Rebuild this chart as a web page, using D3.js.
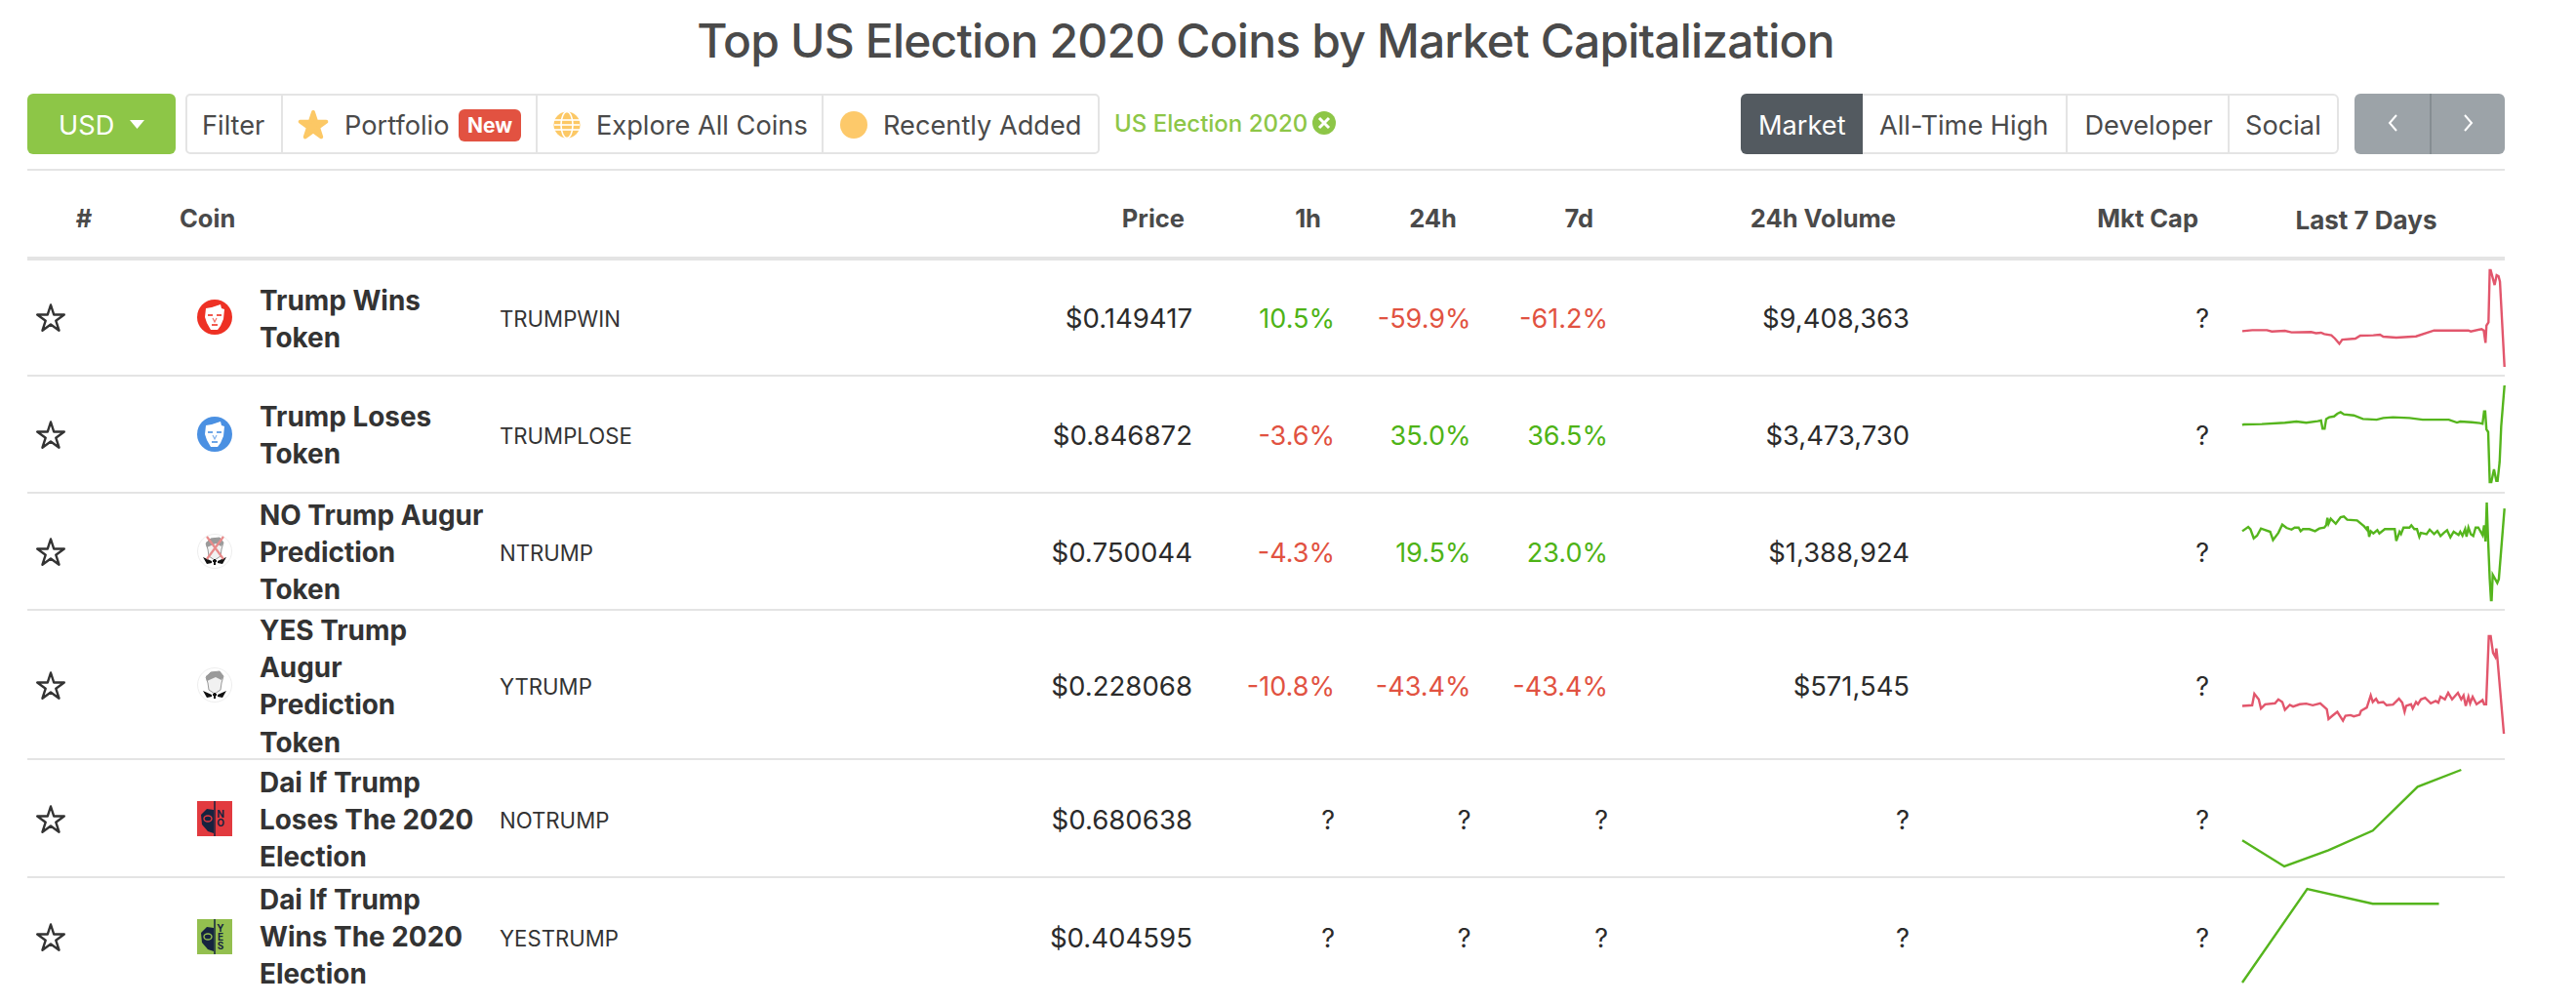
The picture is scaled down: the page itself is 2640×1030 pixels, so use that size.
<!DOCTYPE html>
<html>
<head>
<meta charset="utf-8">
<title>Top US Election 2020 Coins</title>
<script src="https://cdn.jsdelivr.net/npm/d3@7"></script>
<style>
  html, body { margin: 0; padding: 0; background: #fff; }
  svg { display: block; font-family: Inter, sans-serif; }
</style>
</head>
<body>
<svg id="chart" width="2640" height="1030"></svg>
<script>
const coinNames = [
  ["Trump Wins", "Token"],
  ["Trump Loses", "Token"],
  ["NO Trump Augur", "Prediction", "Token"],
  ["YES Trump", "Augur", "Prediction", "Token"],
  ["Dai If Trump", "Loses The 2020", "Election"],
  ["Dai If Trump", "Wins The 2020", "Election"]
]
const coinSymbols = ["TRUMPWIN", "TRUMPLOSE", "NTRUMP", "YTRUMP", "NOTRUMP", "YESTRUMP"]
const prices = ["$0.149417", "$0.846872", "$0.750044", "$0.228068", "$0.680638", "$0.404595"]
const change1h = [10.5, -3.6, -4.3, -10.8, null, null]
const change24h = [-59.9, 35.0, 19.5, -43.4, null, null]
const change7d = [-61.2, 36.5, 23.0, -43.4, null, null]
const volumes = ["$9,408,363", "$3,473,730", "$1,388,924", "$571,545", "?", "?"]
const marketCaps = ["?", "?", "?", "?", "?", "?"]
const headers = ["Price", "1h", "24h", "7d", "24h Volume", "Mkt Cap"]

// sparklines: hours since the start of the 7 days, price in cents, both
const sparkHours = [
  [0,6.3,15.7,18.8,27.2,31.4,43.9,47,50.2,52.3,56.8,59.1,61.9,63.7,72.1,75.2,83.6,87.8,89.9,98.2,110.8,122.3,133.8,144.2,145.7,152.6,154,155.1,155.7,157,157.8,158.4,160.9,162.2,163.4,164.3,167.2],
  [0,1,12.5,27.2,34.5,40.8,48.1,50.2,51.2,52.5,53.5,55.4,58.5,60.6,62.7,64.8,71.1,76.9,85.7,89.9,96.1,106.6,115,131.7,136.9,139,146.3,151.5,153.2,154.2,154.9,155.7,156.8,157.8,158.8,160.5,162,162.8,164.1,165.1,167.2],
  [0,3.8,5.2,7.3,9.4,11.9,17.8,19.6,23,25.5,28.2,31.4,33.4,35.9,37.2,38.7,42.8,46.4,49.1,52.3,53.5,54.3,55,56.4,59.6,62.7,64.8,66.9,73.2,77.7,79.4,80,80.9,81.9,83.6,86.1,87.4,90.9,97.2,98.2,100.3,101.2,102.8,106.6,107.8,109.7,111.4,112.9,113.9,117.5,119.5,122.3,124.4,126.4,128.5,130.6,132.7,134.8,137.9,139,140.4,142.1,143,144.2,145.7,147.3,148.8,150.5,153.2,154.2,155.1,155.9,156.8,157.8,158.6,159,159.7,162.6,163.6,167.2],
  [0,6.3,7.7,10.5,11.9,14.6,20.9,23,25.5,27.2,30.3,32.4,36.6,40.8,44.9,49.7,53.9,55,57.5,60.6,64.2,65.8,69,71.1,74.8,75.7,79.4,81.9,83.2,85.3,86.7,89.9,92,96.1,99.9,102,103.5,104.5,107.6,108.7,110.8,112,113.9,116.6,120.2,123.3,125,126.4,129.2,131.3,133.8,137.5,139.6,141.1,142.5,144.2,145.3,146.9,149.4,153.2,154.2,155.5,157.2,158.4,159.9,161.3,162,162.6,166.8],
  [0,26.8,55,83.2,111.8,139.6],
  [0,41.4,83.2,125.4]
]
const sparkCents = [
  [38,38.6,38.6,37.8,38.2,37.2,37.4,36.7,37,36.1,35.3,33.2,29.8,32.5,33.2,35.1,35.3,35.7,34.4,33.8,34.6,38.4,38.4,38.4,37.8,39.3,38.4,30.4,41.6,43.7,77.3,77.3,67.8,74.1,73.5,69.9,14.9],
  [61.5,61.9,62.1,62.9,63.6,62.9,63.8,64.2,59.4,59.4,65.1,66.1,66.6,68.2,69.1,67.8,67.2,65.1,64.7,65.7,66.1,65.7,64.7,64.7,63,63.6,63.2,62.7,62.3,69.5,69.5,59,57.5,28.3,28.3,35.7,29,29,40,60.9,84.7],
  [60.3,63,61.6,55.7,57.4,62,59.9,54.6,59.2,64.5,62.4,61.3,62.6,62.6,60.3,61.6,61.6,60.3,62,62.6,64.1,68.9,65.1,68.3,65.1,69.3,69.8,67.7,67.2,63.4,61.3,63.4,56.7,60.3,58.8,60.9,58.8,61.6,61.6,54,59.9,58.4,62.6,62.6,64.1,61.6,61.6,56.7,59.2,58.4,61.3,58.4,60.5,57.2,59.2,60.9,56.3,59.9,57.8,59.9,57.4,61.6,56.7,62.6,58.4,57.2,62.6,62.6,57.8,64.1,53.6,78.8,53.6,29.4,15.8,15.8,32.2,26.9,29.4,75],
  [39.8,40.2,47.2,43.8,38.2,40.8,41.4,43.8,42.2,37.4,40.4,39.4,40.8,41.2,40.2,41.4,37.8,31.8,33.8,36.2,30.8,33.8,34.2,33.4,34.4,36.8,38.8,46.2,42.2,44.2,41.8,42.2,40.2,40.6,44.2,41.8,36.2,39.8,40.8,38.2,42.2,40.8,43.8,44.8,41.4,42.8,41.8,45.4,43.8,47.8,43.8,47.8,43.8,46.2,39.8,45.4,41.4,45.4,40.8,43.4,40.8,40.8,82.4,82.4,72.2,69.8,74.8,69.8,22.8],
  [24.7,8.7,18.7,30.7,57.7,68.1],
  [16.1,45.1,40.5,40.5]
]
const toolbarLeft = ["Filter", "Portfolio", "Explore All Coins", "Recently Added"]
const toolbarRight = ["Market", "All-Time High", "Developer", "Social"]

const GREEN = "#4eb316", RED = "#e15241", INK = "#4a4a4a", DARK = "#2b2b2b", RULE = "#e4e4e4"
const LEFT = 28, RIGHT = 2567

const svg = d3.select("#chart")

function label(parent, txt, x, y, size, opts = {}) {
  return parent.append("text")
    .attr("x", x).attr("y", y)
    .attr("font-size", size)
    .attr("font-weight", opts.weight || 400)
    .attr("fill", opts.fill || INK)
    .attr("text-anchor", opts.anchor || "start")
    .attr("letter-spacing", opts.spacing || null)
    .text(txt)
}

function rule(y, h) {
  svg.append("rect").attr("x", LEFT).attr("y", y - h / 2).attr("width", RIGHT - LEFT).attr("height", h).attr("fill", RULE)
}

function star(parent, cx, cy, r, fill, stroke, width) {
  parent.append("path")
    .attr("d", d3.symbol(d3.symbolStar, r * r / 0.8908))
    .attr("transform", `translate(${cx},${cy})`)
    .attr("fill", fill)
    .attr("stroke", stroke)
    .attr("stroke-width", width)
    .attr("stroke-linejoin", "round")
}

// title
label(svg, "Top US Election 2020 Coins by Market Capitalization", 1297, 59, 48, { anchor: "middle", weight: 500, spacing: -0.82 })

// toolbar, left side
svg.append("rect").attr("x", 28).attr("y", 96).attr("width", 152).attr("height", 62).attr("rx", 6).attr("fill", "#8dc647")
label(svg, "USD", 60, 138, 27.2, { fill: "#fff" })
svg.append("path").attr("d", "M133,123h15l-7.5,9z").attr("fill", "#fff")

svg.append("rect").attr("x", 191).attr("y", 97).attr("width", 935).attr("height", 60).attr("rx", 4).attr("fill", "#fff").attr("stroke", RULE).attr("stroke-width", 2)
;[289, 550, 843].forEach(x => {
  svg.append("line").attr("x1", x).attr("x2", x).attr("y1", 97).attr("y2", 157).attr("stroke", RULE).attr("stroke-width", 2)
})
const leftStarts = [207, 353, 611, 905]
toolbarLeft.forEach((t, i) => label(svg, t, leftStarts[i], 138, 27.2))

star(svg, 321, 129, 14, "#fcc865", "#fcc865", 4)
svg.append("rect").attr("x", 470).attr("y", 112).attr("width", 64).attr("height", 33).attr("rx", 6).attr("fill", "#e25241")
label(svg, "New", 502, 136, 21, { fill: "#fff", weight: 700, anchor: "middle" })

// globe
const globe = svg.append("g").attr("transform", "translate(581,128)")
globe.append("circle").attr("r", 13.5).attr("fill", "#fcc865")
globe.append("ellipse").attr("rx", 6).attr("ry", 13.5).attr("fill", "none").attr("stroke", "#fff").attr("stroke-width", 1.6)
;[-5, 0, 5].forEach(dy => globe.append("line").attr("x1", -13).attr("x2", 13).attr("y1", dy).attr("y2", dy).attr("stroke", "#fff").attr("stroke-width", 1.6))
svg.append("circle").attr("cx", 875).attr("cy", 128).attr("r", 14).attr("fill", "#fdc96a")

// active filter
label(svg, "US Election 2020", 1142, 135, 24, { fill: "#8dc647", weight: 500 })
svg.append("circle").attr("cx", 1357).attr("cy", 126).attr("r", 12).attr("fill", "#8dc647")
svg.append("path").attr("d", "M1352,121l10,10M1362,121l-10,10").attr("stroke", "#fff").attr("stroke-width", 3)

// toolbar, right side
svg.append("rect").attr("x", 1785).attr("y", 97).attr("width", 611).attr("height", 60).attr("rx", 5).attr("fill", "#fff").attr("stroke", RULE).attr("stroke-width", 2)
svg.append("path").attr("d", "M1909,96V158H1790a6,6 0 0 1 -6,-6V102a6,6 0 0 1 6,-6z").attr("fill", "#535a60")
;[2118, 2284].forEach(x => {
  svg.append("line").attr("x1", x).attr("x2", x).attr("y1", 97).attr("y2", 157).attr("stroke", RULE).attr("stroke-width", 2)
})
const rightStarts = [1802, 1926, 2136.5, 2301]
toolbarRight.forEach((t, i) => label(svg, t, rightStarts[i], 138, 27.2, { fill: i === 0 ? "#fff" : INK }))

svg.append("rect").attr("x", 2413).attr("y", 96).attr("width", 154).attr("height", 62).attr("rx", 6).attr("fill", "#9ca3a8")
svg.append("line").attr("x1", 2491).attr("x2", 2491).attr("y1", 96).attr("y2", 158).attr("stroke", "#7f878d").attr("stroke-width", 1.5)
svg.append("path").attr("d", "M2456,118l-7,8l7,8M2526,118l7,8l-7,8").attr("fill", "none").attr("stroke", "#fff").attr("stroke-width", 2)

// table head
rule(174, 2)
rule(265, 4)
label(svg, "#", 86, 233, 25.5, { weight: 700, anchor: "middle" })
label(svg, "Coin", 184, 233, 25.5, { weight: 700 })
const headRight = [1214, 1354, 1493, 1633, 1943, 2253]
headers.forEach((h, i) => label(svg, h, headRight[i], 233, 25.5, { weight: 700, anchor: "end" }))
label(svg, "Last 7 Days", 2425, 234.5, 26, { weight: 700, anchor: "middle" })

// rows
const rowCentres = [326, 446, 566, 703, 840, 961]
const firstBaselines = [318, 437, 538, 656, 812, 932]
;[385, 505, 625, 778, 899].forEach(y => rule(y, 2))

const x = d3.scaleLinear().domain([0, 168]).range([2298, 2568])
// vertical extent of each sparkline on the page, lowest then highest
const sparkRanges = [[376, 277], [494, 395], [615, 515], [752, 652], [888, 789], [1007, 911]]
const sparkColors = ["#e2566c", "#55b51d", "#55b51d", "#e2566c", "#55b51d", "#55b51d"]

function pct(v) {
  return v === null ? "?" : v.toFixed(1) + "%"
}
function pctColor(v) {
  return v === null ? DARK : v < 0 ? RED : GREEN
}

coinNames.forEach((lines, i) => {
  const g = svg.append("g").attr("class", "row")
  const cy = rowCentres[i]
  const base = cy + 10

  star(g, 52, cy + 1, 14.5, "none", "#333", 2.4)
  drawIcon(g, i, 220, cy - 1)

  lines.forEach((l, k) => label(g, l, 266, firstBaselines[i] + k * 38.2, 27.9, { weight: 700, fill: "#333" }))
  label(g, coinSymbols[i], 512, base - 1, 22.2, { fill: "#333" })
  label(g, prices[i], 1222, base, 27.6, { anchor: "end", fill: DARK })
  label(g, pct(change1h[i]), 1368, base, 27, { anchor: "end", fill: pctColor(change1h[i]) })
  label(g, pct(change24h[i]), 1507.5, base, 27, { anchor: "end", fill: pctColor(change24h[i]) })
  label(g, pct(change7d[i]), 1648, base, 27, { anchor: "end", fill: pctColor(change7d[i]) })
  label(g, volumes[i], 1957, base, 27.4, { anchor: "end", fill: DARK })
  label(g, marketCaps[i], 2264, base, 27, { anchor: "end", fill: DARK })

  const points = sparkHours[i].map((h, k) => [h, sparkCents[i][k]])
  const y = d3.scaleLinear().domain(d3.extent(sparkCents[i])).range(sparkRanges[i])
  g.append("path")
    .attr("d", d3.line().x(d => x(d[0])).y(d => y(d[1]))(points))
    .attr("fill", "none")
    .attr("stroke", sparkColors[i])
    .attr("stroke-width", 2.4)
})

// little coin logos, only a rough likeness
function drawIcon(parent, i, cx, cy) {
  const g = parent.append("g").attr("transform", `translate(${cx},${cy})`)
  if (i < 2) {
    const bg = i === 0 ? "#ee3124" : "#4a90e2"
    g.append("circle").attr("r", 18).attr("fill", bg)
    g.append("path").attr("d", "M-9,-9L-3,-10L6,-13L7,-9L10,-8L9,2L6,9L3,13L-4,13L-8,6L-10,0z").attr("fill", "#fff")
    g.append("path").attr("d", "M-7,-2h5M2,-2h5M-3,8h6").attr("stroke", bg).attr("stroke-width", 1.8).attr("opacity", 0.8)
    g.append("path").attr("d", "M-2,1l2,4l2,-4").attr("fill", "none").attr("stroke", bg).attr("stroke-width", 1.2).attr("opacity", 0.7)
  } else if (i < 4) {
    g.append("circle").attr("r", 17.5).attr("fill", "#fff").attr("stroke", "#eee").attr("stroke-width", 1)
    g.append("path").attr("d", "M-7,-2L-9,-8L-4,-13L5,-14L9,-9L7,-2L6,5L0,9L-6,5z").attr("fill", "#f1f1f1").attr("stroke", "#999").attr("stroke-width", 1)
    g.append("path").attr("d", "M-8,-4L-9,-9L-4,-13L5,-14L9,-9L7,-5L1,-8z").attr("fill", "#9a9a9a")
    g.append("path").attr("d", "M-12,6L-3,10L-3,12L-8,13zM12,6L3,10L3,12L8,13z").attr("fill", "#111")
    g.append("path").attr("d", "M0,8V14M-2,10h4").attr("stroke", "#111").attr("stroke-width", 2)
    if (i === 2) g.append("path").attr("d", "M-8,-15L9,8M9,-15L-8,8").attr("stroke", "#e88a8a").attr("stroke-width", 2.2)
  } else {
    const fill = i === 4 ? "#e23a3f" : "#93bf4f"
    g.append("rect").attr("x", -18).attr("y", -18).attr("width", 36).attr("height", 36).attr("fill", fill)
    g.append("path").attr("d", "M-1,-9L-8,-10L-14,-4L-13,6L-7,13L-1,15z").attr("fill", "#16233f")
    g.append("ellipse").attr("cx", -7).attr("cy", 0).attr("rx", 4).attr("ry", 3).attr("fill", "none").attr("stroke", fill).attr("stroke-width", 1.4)
    g.append("line").attr("x1", 0).attr("x2", 0).attr("y1", -18).attr("y2", 18).attr("stroke", "#16233f").attr("stroke-width", 1.5)
    const txt = i === 4 ? "NO" : "YES"
    txt.split("").forEach((c, k) => {
      label(g, c, 6, (i === 4 ? -1 : -5) + k * 9, 10, { fill: "#16233f", weight: 700, anchor: "middle" })
    })
  }
}
</script>
</body>
</html>
